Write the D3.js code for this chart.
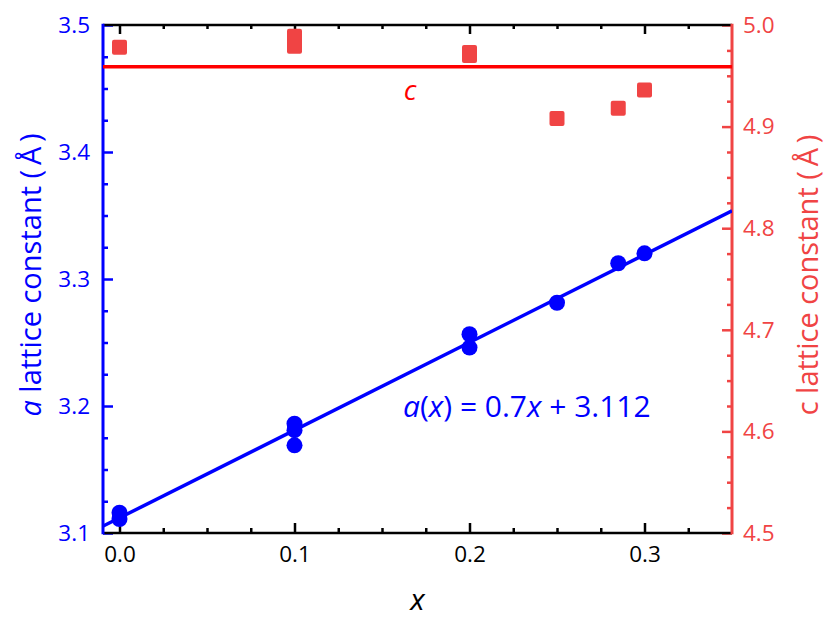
<!DOCTYPE html>
<html>
<head>
<meta charset="utf-8">
<script src="https://cdn.jsdelivr.net/npm/d3@7"></script>
<style>
  html, body { margin: 0; padding: 0; background: #fff; }
  svg { display: block; font-family: "Open Sans", "Noto Sans", sans-serif; }
</style>
</head>
<body>
<svg id="chart" width="830" height="622"></svg>
<script>
// ---- data ----
const aX = [0.0, 0.0, 0.1, 0.1, 0.1, 0.2, 0.2, 0.25, 0.285, 0.3];
const aVal = [3.116, 3.111, 3.186, 3.181, 3.169, 3.2565, 3.246, 3.2813, 3.3124, 3.3202];
const cX = [0.0, 0.1, 0.1, 0.2, 0.2, 0.25, 0.285, 0.3];
const cVal = [4.978, 4.989, 4.979, 4.973, 4.970, 4.908, 4.918, 4.936];
const fitX = [-0.01, 0.35];
const fitA = [3.105, 3.3537];
const cLevel = 4.959;
const xTicks = [0.0, 0.1, 0.2, 0.3];
const aTicks = [3.1, 3.2, 3.3, 3.4, 3.5];
const cTicks = [4.5, 4.6, 4.7, 4.8, 4.9, 5.0];

// ---- layout ----
const L = 103, R = 732, T = 25, B = 533;
const blue = "#0000ff", red = "#ff0000", cRed = "#f04444";
const ff = '"Open Sans", "Noto Sans", sans-serif';
const tickFont = 22.5;

const svg = d3.select("#chart");
const x = d3.scaleLinear().domain([-0.01, 0.35]).range([L - 1, R]);
const yA = d3.scaleLinear().domain([3.1, 3.5]).range([B, T]);
const yC = d3.scaleLinear().domain([4.5, 5.0]).range([B, T]);

const notMajor = v => Math.abs(v * 10 - Math.round(v * 10)) > 1e-6;
const xMinor = d3.range(0, 0.35, 0.025).filter(notMajor);
const aMinor = d3.range(3.1, 3.5, 0.025).filter(notMajor);
const cMinor = d3.range(4.5, 5.0, 0.025).filter(notMajor);

function styleAxis(g, color) {
  g.attr("font-size", tickFont).attr("font-family", ff);
  g.select(".domain").remove();
  g.selectAll("line").attr("stroke", color).attr("stroke-width", 2.5);
  g.selectAll("text").attr("fill", color).attr("font-size", tickFont);
}

// bottom axis
svg.append("g").attr("transform", `translate(0,${B})`)
  .call(d3.axisBottom(x).tickValues(xTicks).tickFormat(d3.format(".1f")).tickSizeInner(-10).tickSizeOuter(0).tickPadding(13))
  .call(g => styleAxis(g, "#000"));
svg.append("g").attr("transform", `translate(0,${B})`)
  .call(d3.axisBottom(x).tickValues(xMinor).tickFormat("").tickSizeInner(-5).tickSizeOuter(0))
  .call(g => styleAxis(g, "#000"));

// top axis
svg.append("g").attr("transform", `translate(0,${T})`)
  .call(d3.axisTop(x).tickValues(xTicks).tickFormat("").tickSizeInner(-9).tickSizeOuter(0))
  .call(g => styleAxis(g, "#000"));
svg.append("g").attr("transform", `translate(0,${T})`)
  .call(d3.axisTop(x).tickValues(xMinor).tickFormat("").tickSizeInner(-4).tickSizeOuter(0))
  .call(g => styleAxis(g, "#000"));

// left axis
svg.append("g").attr("transform", `translate(${L},0)`)
  .call(d3.axisLeft(yA).tickValues(aTicks).tickFormat(d3.format(".1f")).tickSizeInner(-10).tickSizeOuter(0).tickPadding(13))
  .call(g => styleAxis(g, blue));
svg.append("g").attr("transform", `translate(${L},0)`)
  .call(d3.axisLeft(yA).tickValues(aMinor).tickFormat("").tickSizeInner(-5).tickSizeOuter(0))
  .call(g => styleAxis(g, blue));

// right axis
svg.append("g").attr("transform", `translate(${R},0)`)
  .call(d3.axisRight(yC).tickValues(cTicks).tickFormat(d3.format(".1f")).tickSizeInner(-10).tickSizeOuter(0).tickPadding(11))
  .call(g => styleAxis(g, cRed));
svg.append("g").attr("transform", `translate(${R},0)`)
  .call(d3.axisRight(yC).tickValues(cMinor).tickFormat("").tickSizeInner(-5).tickSizeOuter(0))
  .call(g => styleAxis(g, cRed));

// frame lines
svg.append("line").attr("x1", L).attr("x2", R).attr("y1", T).attr("y2", T).attr("stroke", "#000").attr("stroke-width", 2.5);
svg.append("line").attr("x1", L).attr("x2", R).attr("y1", B).attr("y2", B).attr("stroke", "#000").attr("stroke-width", 2.5);
svg.append("line").attr("x1", L).attr("x2", L).attr("y1", T - 1.25).attr("y2", B + 1.25).attr("stroke", blue).attr("stroke-width", 3);
svg.append("line").attr("x1", R).attr("x2", R).attr("y1", T - 1.25).attr("y2", B + 1.25).attr("stroke", cRed).attr("stroke-width", 3);

// clip
svg.append("clipPath").attr("id", "clip").append("rect")
  .attr("x", L).attr("y", T).attr("width", R - L).attr("height", B - T);
const plot = svg.append("g").attr("clip-path", "url(#clip)");

// c level line
plot.append("line").attr("x1", L).attr("x2", R)
  .attr("y1", yC(cLevel)).attr("y2", yC(cLevel))
  .attr("stroke", red).attr("stroke-width", 3.5);

// fit line
plot.append("path")
  .datum(fitX.map((v, i) => [v, fitA[i]]))
  .attr("d", d3.line().x(d => x(d[0])).y(d => yA(d[1])))
  .attr("fill", "none").attr("stroke", blue).attr("stroke-width", 3.5);

// c squares
const sq = 15;
svg.append("g").selectAll("rect").data(cX.map((v, i) => [v, cVal[i]])).join("rect")
  .attr("x", d => x(d[0]) - sq / 2).attr("y", d => yC(d[1]) - sq / 2)
  .attr("width", sq).attr("height", sq).attr("rx", 2)
  .attr("fill", cRed);

// a circles
svg.append("g").selectAll("circle").data(aX.map((v, i) => [v, aVal[i]])).join("circle")
  .attr("cx", d => x(d[0])).attr("cy", d => yA(d[1])).attr("r", 8)
  .attr("fill", blue);

// labels
svg.append("text").attr("x", 410).attr("y", 100).attr("text-anchor", "middle")
  .attr("fill", red).style("font-size", "28px").style("font-style", "italic").style("font-family", ff).text("c");

const eq = svg.append("text").attr("x", 403).attr("y", 417)
  .attr("fill", blue).style("font-size", "30px").style("font-family", ff);
eq.append("tspan").style("font-style", "italic").text("a");
eq.append("tspan").text("(");
eq.append("tspan").style("font-style", "italic").text("x");
eq.append("tspan").text(") = 0.7");
eq.append("tspan").style("font-style", "italic").text("x");
eq.append("tspan").text(" + 3.112");

svg.append("text").attr("x", (L + R) / 2).attr("y", 610).attr("text-anchor", "middle")
  .attr("fill", "#000").style("font-size", "30px").style("font-style", "italic").style("font-family", ff).text("x");

const yl = svg.append("text").attr("transform", `translate(41,${(T + B) / 2 - 4}) rotate(-90)`)
  .attr("text-anchor", "middle").attr("fill", blue).style("font-size", "29px").style("font-family", ff);
yl.append("tspan").style("font-style", "italic").text("a");
yl.append("tspan").text(" lattice constant (\u2009Å\u2009)");

const yr = svg.append("text").attr("transform", `translate(818,${(T + B) / 2 - 4}) rotate(-90)`)
  .attr("text-anchor", "middle").attr("fill", cRed).style("font-size", "29px").style("font-family", ff);
yr.append("tspan").text("c lattice constant (\u2009Å\u2009)");
</script>
</body>
</html>
